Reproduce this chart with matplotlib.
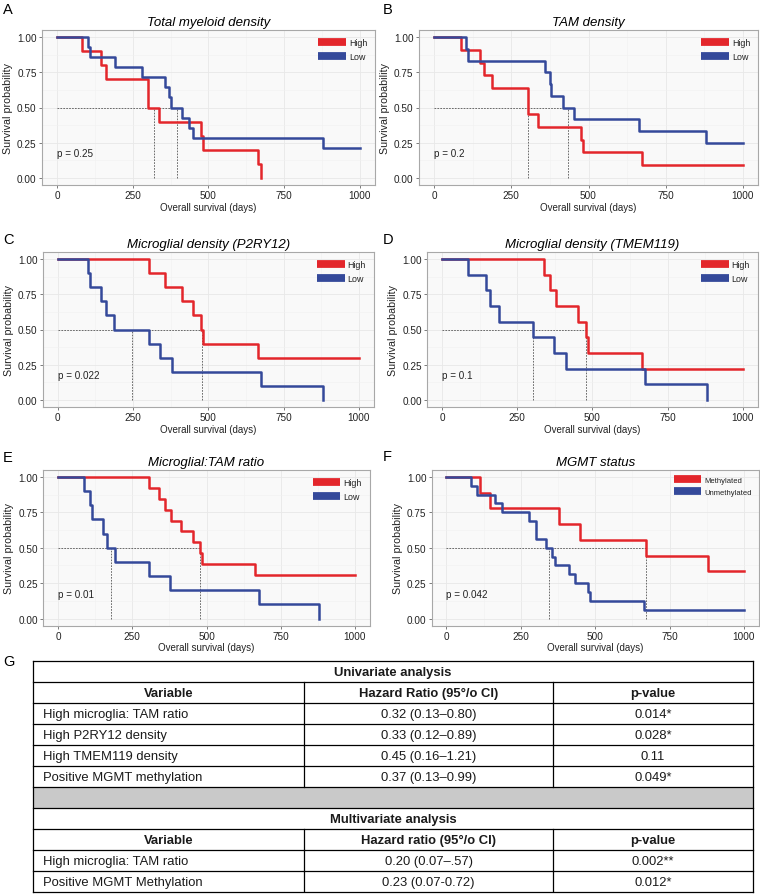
import matplotlib
matplotlib.use("Agg")
import matplotlib.pyplot as plt
from matplotlib.lines import Line2D

plt.rcParams['font.family'] = ['Liberation Sans', 'DejaVu Sans']

RED = '#e3262b'
BLUE = '#34499a'

######### Kaplan-Meier steps: day of each drop and survival after it (all start at 1.0 on day 0)
A_high_t = [82, 145, 162, 300, 337, 476, 482, 663, 674]
A_high_s = [0.90, 0.80, 0.70, 0.50, 0.40, 0.30, 0.20, 0.10, 0.0]
A_low_t = [103, 108, 190, 281, 358, 369, 377, 412, 434, 448, 879]
A_low_s = [0.929, 0.857, 0.786, 0.714, 0.643, 0.571, 0.5, 0.429, 0.357, 0.286, 0.214]

B_high_t = [86, 148, 163, 189, 304, 338, 476, 483, 673]
B_high_s = [0.909, 0.818, 0.727, 0.636, 0.455, 0.364, 0.273, 0.182, 0.091]
B_low_t = [105, 110, 358, 374, 379, 416, 452, 663, 880]
B_low_s = [0.917, 0.833, 0.75, 0.667, 0.583, 0.5, 0.417, 0.333, 0.25]

C_high_t = [302, 357, 413, 448, 476, 482, 664]
C_high_s = [0.9, 0.8, 0.7, 0.6, 0.5, 0.4, 0.3]
C_low_t = [101, 107, 144, 159, 188, 302, 338, 378, 675, 880]
C_low_s = [0.9, 0.8, 0.7, 0.6, 0.5, 0.4, 0.3, 0.2, 0.1, 0.0]

D_high_t = [339, 359, 378, 452, 477, 485, 664]
D_high_s = [0.889, 0.778, 0.667, 0.556, 0.444, 0.333, 0.222]
D_low_t = [85, 147, 161, 189, 303, 371, 413, 673, 880]
D_low_s = [0.889, 0.778, 0.667, 0.556, 0.444, 0.333, 0.222, 0.111, 0.0]

E_high_t = [306, 341, 359, 379, 415, 453, 478, 486, 663]
E_high_s = [0.923, 0.846, 0.769, 0.692, 0.615, 0.538, 0.462, 0.385, 0.308]
E_low_t = [88, 108, 116, 150, 166, 191, 306, 376, 676, 880]
E_low_s = [0.9, 0.8, 0.7, 0.6, 0.5, 0.4, 0.3, 0.2, 0.1, 0.0]

F_meth_t = [111, 146, 378, 448, 672, 878]
F_meth_s = [0.889, 0.778, 0.667, 0.556, 0.444, 0.333]
F_unmeth_t = [82, 102, 162, 187, 278, 301, 336, 354, 366, 412, 433, 476, 482, 663]
F_unmeth_s = [0.938, 0.875, 0.813, 0.75, 0.688, 0.563, 0.5, 0.438, 0.375, 0.313,
              0.25, 0.188, 0.125, 0.063]

follow_up_end = 1000

titles = ['Total myeloid density', 'TAM density', 'Microglial density (P2RY12)',
          'Microglial density (TMEM119)', 'Microglial:TAM ratio', 'MGMT status']
letters = ['A', 'B', 'C', 'D', 'E', 'F']
pvalues = ['p = 0.25', 'p = 0.2', 'p = 0.022', 'p = 0.1', 'p = 0.01', 'p = 0.042']
group_labels = [['High', 'Low']] * 5 + [['Methylated', 'Unmethylated']]
curves = [
    [(A_high_t, A_high_s), (A_low_t, A_low_s)],
    [(B_high_t, B_high_s), (B_low_t, B_low_s)],
    [(C_high_t, C_high_s), (C_low_t, C_low_s)],
    [(D_high_t, D_high_s), (D_low_t, D_low_s)],
    [(E_high_t, E_high_s), (E_low_t, E_low_s)],
    [(F_meth_t, F_meth_s), (F_unmeth_t, F_unmeth_s)],
]

######### Table G
uni_rows = [['High microglia: TAM ratio', '0.32 (0.13\u20130.80)', '0.014*'],
            ['High P2RY12 density', '0.33 (0.12\u20130.89)', '0.028*'],
            ['High TMEM119 density', '0.45 (0.16\u20131.21)', '0.11'],
            ['Positive MGMT methylation', '0.37 (0.13\u20130.99)', '0.049*']]
multi_rows = [['High microglia: TAM ratio', '0.20 (0.07\u2013.57)', '0.002**'],
              ['Positive MGMT Methylation', '0.23 (0.07-0.72)', '0.012*']]
uni_header = ['Variable', 'Hazard Ratio (95\u00b0/o CI)', 'p-value']
multi_header = ['Variable', 'Hazard ratio (95\u00b0/o CI)', 'p-value']

W, H = 760, 895
fig = plt.figure(figsize=(W / 100, H / 100), dpi=100)

# pixel positions of day 0, day 1000, surv 1.00, surv 0.00 for each panel
boxes = [(57, 360, 38, 179), (434, 743, 38, 179),
         (57.7, 359, 260, 401), (442, 743, 260, 401),
         (58, 355, 478, 619.5), (446.5, 744, 478, 619.5)]
letter_pos = [(3, 10), (383, 10), (3, 240), (383, 240), (3, 458), (383, 457)]


def km_steps(t, s):
    x = [0] + list(t)
    y = [1.0] + list(s)
    if s[-1] > 0:
        x.append(follow_up_end)
        y.append(s[-1])
    return x, y


def km_median(t, s):
    for i, v in enumerate(s):
        if v <= 0.5 + 1e-6:
            if abs(v - 0.5) < 1e-6 and i + 1 < len(t):
                return (t[i] + t[i + 1]) / 2.
            return t[i]
    return None


for k in range(6):
    x0, x1, y1, y0 = boxes[k]
    sx = (x1 - x0) / 1000.
    sy = (y0 - y1)
    left, right = x0 - 50 * sx, x1 + 50 * sx
    top, bottom = y1 - 0.05 * sy, y0 + 0.05 * sy
    ax = fig.add_axes([left / W, 1 - bottom / H, (right - left) / W, (bottom - top) / H])
    ax.set_xlim(-50, 1050)
    ax.set_ylim(-0.05, 1.05)
    ax.set_facecolor('#f9f9f9')
    for sp in ax.spines.values():
        sp.set_color('#a8a8a8')
        sp.set_linewidth(0.8)
    ax.set_xticks([0, 250, 500, 750, 1000])
    ax.set_yticks([0, 0.25, 0.5, 0.75, 1.0])
    ax.set_yticklabels(['0.00', '0.25', '0.50', '0.75', '1.00'])
    ax.set_xticks([125, 375, 625, 875], minor=True)
    ax.set_yticks([0.125, 0.375, 0.625, 0.875], minor=True)
    ax.grid(True, which='major', color='#e8e8e8', lw=0.6)
    ax.grid(True, which='minor', color='#f1f1f1', lw=0.4)
    ax.set_axisbelow(True)
    ax.tick_params(which='major', labelsize=7.2, length=2.2, width=0.6, color='#666',
                   labelcolor='#222', pad=1.5)
    ax.tick_params(which='minor', length=0)
    ax.set_xlabel('Overall survival (days)', fontsize=7, color='#222', labelpad=1)
    ax.set_ylabel('Survival probability', fontsize=7.7, color='#222', labelpad=3)
    ax.set_title(titles[k], style='italic', fontsize=9.5, pad=3.5)

    meds = []
    for (t, s), col in zip(curves[k], [RED, BLUE]):
        x, y = km_steps(t, s)
        ax.step(x, y, where='post', color=col, lw=1.8, zorder=3)
        meds.append(km_median(t, s))
    meds = [m for m in meds if m is not None]
    ax.plot([0, max(meds)], [0.5, 0.5], color='#555', lw=0.6, ls=(0, (2, 1.5)), zorder=2)
    for m in meds:
        ax.plot([m, m], [0, 0.5], color='#555', lw=0.6, ls=(0, (2, 1.5)), zorder=2)

    ax.text(0, 0.175, pvalues[k], fontsize=7.1, va='center', ha='left', color='#222')

    handles = [Line2D([], [], color=RED, lw=5.6, solid_capstyle='butt'),
               Line2D([], [], color=BLUE, lw=5.6, solid_capstyle='butt')]
    fs = 6.4 if k < 5 else 5.5
    ax.legend(handles, group_labels[k], loc='upper right', bbox_to_anchor=(1.0, 1.0),
              frameon=False, fontsize=fs, handlelength=20 / fs, labelcolor='#222',
              handletextpad=2.2 / fs, labelspacing=0.55, borderaxespad=0.6,
              borderpad=0.3)

    lx, ly = letter_pos[k]
    fig.text(lx / W, 1 - ly / H, letters[k], fontsize=10.5, va='center', ha='left')

fig.text(3 / W, 1 - 662 / H, 'G', fontsize=10.5, va='center', ha='left')

######### table
tl, tt, tw, rh = 33, 662, 720, 21
n_rows = 11
tax = fig.add_axes([tl / W, 1 - (tt + n_rows * rh) / H, tw / W, n_rows * rh / H])
tax.set_xlim(0, tw)
tax.set_ylim(n_rows * rh, 0)
tax.axis('off')
col_edges = [0, 271.5, 520, tw]
text_col = '#1a1a1a'
lw = 0.9

table_rows = ([('span', 'Univariate analysis'), ('head', uni_header)]
              + [('data', r) for r in uni_rows]
              + [('grey', None), ('span', 'Multivariate analysis'), ('head', multi_header)]
              + [('data', r) for r in multi_rows])

for i, (kind, content) in enumerate(table_rows):
    ya, yb = i * rh, (i + 1) * rh
    yc = (ya + yb) / 2 + 0.5
    if kind == 'grey':
        tax.fill_between([0, tw], ya, yb, color='#c9c9c9', lw=0)
    elif kind == 'span':
        tax.text(tw / 2, yc, content, ha='center', va='center', fontsize=9.4,
                 fontweight='bold', color=text_col)
    else:
        weight = 'bold' if kind == 'head' else 'normal'
        for j, cell in enumerate(content):
            if j == 0 and kind == 'data':
                tax.text(col_edges[0] + 10, yc, cell, ha='left', va='center',
                         fontsize=9.4, color=text_col)
            else:
                xc = (col_edges[j] + col_edges[j + 1]) / 2
                tax.text(xc, yc, cell, ha='center', va='center', fontsize=9.4,
                         fontweight=weight, color=text_col)
        for xe in col_edges[1:-1]:
            tax.plot([xe, xe], [ya, yb], color='black', lw=lw)

for i in range(n_rows + 1):
    tax.plot([0, tw], [i * rh, i * rh], color='black', lw=lw, clip_on=False)
tax.plot([0, 0], [0, n_rows * rh], color='black', lw=lw, clip_on=False)
tax.plot([tw, tw], [0, n_rows * rh], color='black', lw=lw, clip_on=False)

fig.savefig('out.png', dpi=100)
